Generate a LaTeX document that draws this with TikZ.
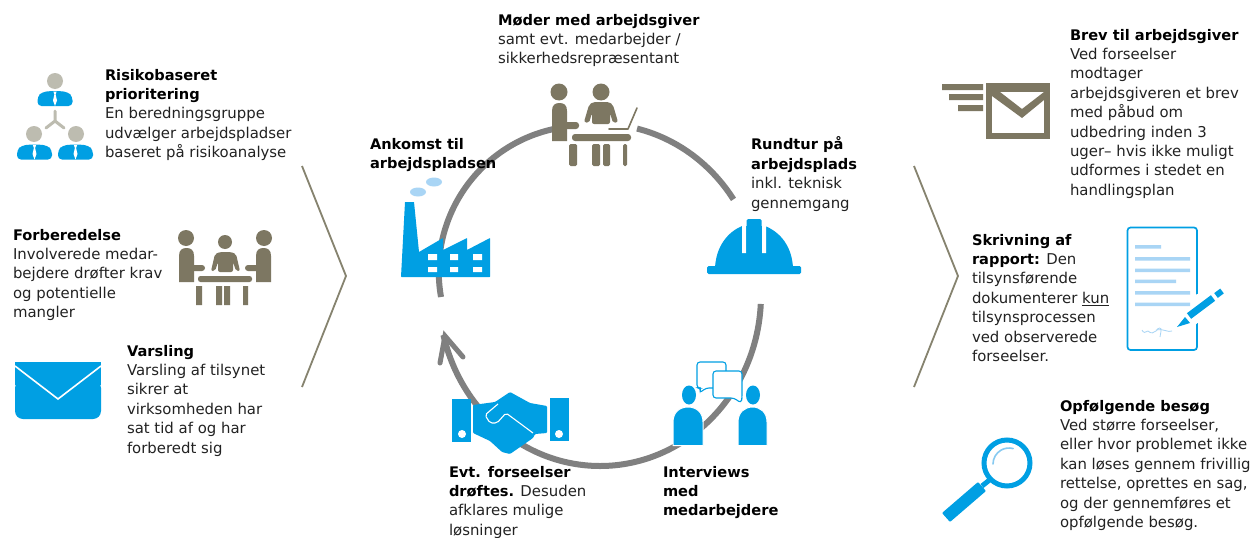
\documentclass[tikz,border=0pt]{standalone}
\usepackage{fontspec}
\setmainfont{DejaVu Sans}
\usetikzlibrary{arrows.meta}
\definecolor{iblue}{HTML}{009FE3}
\definecolor{ibrown}{HTML}{7D7762}
\definecolor{igrey}{HTML}{BDBCB0}
\definecolor{lblue}{HTML}{A9D5F5}
\definecolor{ring}{HTML}{808080}
\definecolor{chev}{HTML}{86836F}
\definecolor{tcol}{HTML}{222222}
\newcommand{\bt}[1]{{\fontsize{14.6}{19.4}\selectfont\bfseries\color{black}#1}}
\tikzset{
  x=1pt,y=-1pt,
  txt/.style={anchor=north west,inner sep=0pt,outer sep=0pt,align=left,text=tcol,font=\fontsize{14.9}{19.4}\selectfont},
  cyc/.style={draw=ring,line width=6pt},
  chevron/.style={draw=chev,line width=1.8pt,line join=miter},
  suitbody/.pic={
    \fill[iblue,rounded corners=4pt] (-17.5,14.5) -- (-17.5,5) -- (-13,0.5) -- (-4,-0.5) -- (4,-0.5) -- (13,0.5) -- (17.5,5) -- (17.5,14.5) -- cycle;
    \fill[white] (-1.6,0) -- (1.6,0) -- (0.6,3) -- (2,9) -- (0,14.5) -- (-2,9) -- (-0.6,3) -- cycle;
  },
}
\begin{document}
\begin{tikzpicture}
\useasboundingbox (0,0) rectangle (1259,538);
\fill[white] (0,0) rectangle (1259,538);

% cycle
\draw[cyc] (441,297) arc[start angle=170,end angle=258,radius=146];
\draw[cyc] ({600+161*cos(76.7)},{295-171*sin(76.7)}) arc[start angle=76.7,end angle=34,x radius=161,y radius=-171];
\draw[cyc] ({600+161*cos(-3)},{295-171*sin(-3)}) arc[start angle=-3,end angle=-166.5,x radius=161,y radius=-171];
\coordinate (tip) at (445,336);
\coordinate (barbA) at (440,363);
\coordinate (barbB) at (463,357);
\draw[ring,line width=5pt,line cap=round,line join=miter] (barbA) -- (tip) -- (barbB);

% chevrons
\draw[chevron] (302,166) -- (346,276) -- (302,387);
\draw[chevron] (914,166) -- (958,276) -- (914,387);

% risk icon
\fill[igrey] (55,81) circle[radius=8];
\fill[igrey] (34,134) circle[radius=8];
\fill[igrey] (76,134) circle[radius=8];
\pic at (55,91.5) {suitbody};
\pic at (34.5,145) {suitbody};
\pic at (75.5,145) {suitbody};
\draw[igrey,line width=3pt,line cap=round] (55,111) -- (55,121) (46,128) -- (55,121) -- (64,128);

% forberedelse icon
\fill[ibrown] (186,238) circle[radius=8];
\fill[ibrown] (225,242) circle[radius=7];
\fill[ibrown] (264,238) circle[radius=8];
\fill[ibrown] (179,282) -- (179,256) .. controls (179,250) and (182,248) .. (186.5,248) .. controls (191,248) and (194,250) .. (194,256) -- (194,282) -- cycle;
\fill[ibrown,rounded corners=3pt] (190,265) rectangle (205,271);
\fill[ibrown] (271,282) -- (271,256) .. controls (271,250) and (268,248) .. (263.5,248) .. controls (259,248) and (256,250) .. (256,256) -- (256,282) -- cycle;
\fill[ibrown,rounded corners=3pt] (245,265) rectangle (260,271);
\fill[ibrown,rounded corners=2pt] (211,271) -- (215,254) -- (220,252) -- (231,252) -- (236,254) -- (240,271) -- (236,271) -- (233,262) -- (233,272) -- (218,272) -- (218,262) -- (215,271) -- cycle;
\fill[ibrown,rounded corners=2.5pt] (198,276) rectangle (252,282);
\fill[ibrown] (196,286) rectangle (202,305) (216,286) rectangle (222,305) (224,286) rectangle (230,305) (243,286) rectangle (248,305);

% factory
\fill[lblue] (418,192) ellipse[x radius=8,y radius=4.5];
\fill[lblue] (434,182) ellipse[x radius=8,y radius=4.5];
\fill[iblue,rounded corners=0.5pt] (405,202) -- (414,202) -- (419,252) -- (443,238) -- (443,250) -- (467,238) -- (467,250) -- (490,238) -- (490,277) -- (401,277) -- cycle;
\fill[white] (428,254) rectangle (437,260) (450,254) rectangle (458,260) (473,254) rectangle (482,260)
             (428,267) rectangle (437,272) (450,267) rectangle (458,272) (473,267) rectangle (482,272);

% top people icon
\fill[ibrown] (559,92) circle[radius=8.5];
\fill[ibrown] (601,92) circle[radius=8.5];
\fill[ibrown] (552,141) -- (552,111) .. controls (552,105) and (555,103) .. (559.5,103) .. controls (564,103) and (567,105) .. (567,111) -- (567,141) -- cycle;
\fill[ibrown,rounded corners=3pt] (562,122) rectangle (579,129);
\fill[ibrown,rounded corners=2pt] (584,122) -- (589,105) -- (593,102) -- (609,102) -- (613,105) -- (618,122) -- (613,123) -- (610,113) -- (610,124) -- (592,124) -- (592,113) -- (589,123) -- cycle;
\fill[ibrown,rounded corners=3pt] (572,134) rectangle (631,141);
\fill[ibrown,rounded corners=1.5pt] (569,144) rectangle (577,166) (592,144) rectangle (600,166) (603,144) rectangle (610,166) (623,144) rectangle (627,166);
\draw[ibrown,line width=1.6pt,line cap=round,line join=round] (637,108) -- (628,129) -- (609,129);

% hard hat
\fill[iblue] (715,268) .. controls (716,246) and (728,232) .. (742,226) -- (765,226) .. controls (780,232) and (792,246) .. (793,268) -- cycle;
\fill[white] (742,222) rectangle (746,253) (762,222) rectangle (766,253);
\fill[iblue,rounded corners=1.5pt] (746.5,219) rectangle (761.5,254);
\fill[iblue,rounded corners=1.5pt] (707,266) rectangle (801,274);

% interviews
\fill[iblue] (689,395) ellipse[x radius=7,y radius=9.5];
\fill[iblue] (753,395) ellipse[x radius=7,y radius=9.5];
\fill[iblue,draw=white,line width=1pt] (673,445.5) -- (673,422) .. controls (673,412) and (680,407) .. (688,407) .. controls (696,407) and (703,412) .. (703,422) -- (703,445.5) -- cycle;
\fill[iblue,draw=white,line width=1pt] (738,445.5) -- (738,422) .. controls (738,412) and (745,407) .. (752.5,407) .. controls (760,407) and (767,412) .. (767,422) -- (767,445.5) -- cycle;
\draw[iblue,line width=1.1pt,fill=white,rounded corners=3pt] (697,362) -- (726,362) -- (726,388) -- (706,388) -- (699.5,393) -- (701,388) -- (697,388) -- cycle;
\draw[iblue,line width=1.1pt,fill=white,rounded corners=3pt] (713,371) -- (742,371) -- (742,398) -- (741,403) -- (734,398) -- (713,398) -- cycle;

% handshake
\fill[iblue] (452,399) rectangle (471,442);
\fill[iblue] (550,398) rectangle (569,441);
\fill[white] (462,434) circle[radius=4] (559,434) circle[radius=4];
\fill[iblue,rounded corners=1pt] (473,405) -- (495,402) -- (510,392) -- (530,403) -- (547,406) -- (547,433) -- (535,434) -- (533,438) -- (523,445) -- (510,454) -- (502,452) -- (490,441) -- (473,433) -- cycle;
\draw[white,line width=1.1pt,line join=round,rounded corners=2pt] (498,404) -- (485,415) -- (490,423) -- (497,423) -- (506,413) -- (533,433);

% Varsling envelope
\fill[iblue,rounded corners=8pt] (15,380) -- (15,419) -- (101,419) -- (101,380) -- cycle;
\fill[iblue] (15,362) rectangle (101,385);
\draw[white,line width=1.6pt] (15,366) -- (58,399) -- (101,366);

% Brev envelope
\fill[ibrown] (986,83) rectangle (1050,139);
\fill[white] (992,92) rectangle (1044,133);
\fill[ibrown] (992,92) -- (1000,92) -- (1022,109) -- (1044,92) -- (1044,100) -- (1022,118) -- (992,96) -- cycle;
\fill[ibrown] (942,84) rectangle (983,90) (949,94) rectangle (983,100) (958,105) rectangle (983,111);

% document
\draw[iblue,line width=1.7pt,rounded corners=3pt] (1127.5,227.5) rectangle (1197,350);
\fill[lblue] (1135,245) rectangle (1161,248.5) (1135,257) rectangle (1190,260.5) (1135,268.5) rectangle (1190,272)
             (1135,279.5) rectangle (1176,283) (1135,291) rectangle (1190,294.5) (1135,302.5) rectangle (1190,306);
\draw[lblue,line width=0.8pt] (1142,330) .. controls (1143,333) and (1146,333) .. (1148,331) .. controls (1151,334) and (1154,333) .. (1156,331) .. controls (1158,327) and (1162,327) .. (1161,331) -- (1160,337) (1156,330) .. controls (1163,328) and (1168,333) .. (1172,331);
\fill[white] (1195,295) -- (1226,283) -- (1226,300) -- (1195,325) -- cycle;
\fill[iblue] (1177,327) -- (1185,317) -- (1190,323) -- cycle;
\draw[iblue,line width=7pt] (1189,316) -- (1213,298);
\draw[iblue,line width=6pt] (1216,295.5) -- (1222,291);

% magnifier
\draw[iblue,line width=5pt] (1007,463) circle[radius=23];
\draw[lblue!80!iblue,line width=1.6pt,line cap=round] (993,464) arc[start angle=180,end angle=285,radius=16];
\draw[iblue,line width=5pt] (982,486) -- (992,478);
\fill[iblue,rounded corners=1pt] (942,513) -- (978,482) -- (986,491) -- (950,522) -- cycle;

% text
\node[txt] (risk) at (105,69) {\bt{Risikobaseret}\\\bt{prioritering}\\En beredningsgruppe\\udvælger arbejdspladser\\baseret på risikoanalyse};
\node[txt] (forb) at (13,229) {\bt{Forberedelse}\\Involverede medar-\\bejdere drøfter krav\\og potentielle\\mangler};
\node[txt] (vars) at (127,345) {\bt{Varsling}\\Varsling af tilsynet\\sikrer at\\virksomheden har\\sat tid af og har\\forberedt sig};
\node[txt] (moder) at (498,14) {\bt{Møder med arbejdsgiver}\\samt evt. medarbejder /\\sikkerhedsrepræsentant};
\node[txt] (ankomst) at (370,138) {\bt{Ankomst til}\\\bt{arbejdspladsen}};
\node[txt] (rundtur) at (751,137) {\bt{Rundtur på}\\\bt{arbejdsplads}\\inkl. teknisk\\gennemgang};
\node[txt] (evt) at (449,466) {\bt{Evt. forseelser}\\\bt{drøftes.} Desuden\\afklares mulige\\løsninger};
\node[txt] (interv) at (663,466) {\bt{Interviews}\\\bt{med}\\\bt{medarbejdere}};
\node[txt] (brev) at (1070,29) {\bt{Brev til arbejdsgiver}\\Ved forseelser\\modtager\\arbejdsgiveren et brev\\med påbud om\\udbedring inden 3\\uger– hvis ikke muligt\\udformes i stedet en\\handlingsplan};
\node[txt] (skriv) at (972,234) {\bt{Skrivning af}\\\bt{rapport:} Den\\tilsynsførende\\dokumenterer \underline{kun}\\tilsynsprocessen\\ved observerede\\forseelser.};
\node[txt] (opf) at (1060,400) {\bt{Opfølgende besøg}\\Ved større forseelser,\\eller hvor problemet ikke\\kan løses gennem frivillig\\rettelse, oprettes en sag,\\og der gennemføres et\\opfølgende besøg.};
\end{tikzpicture}
\end{document}
